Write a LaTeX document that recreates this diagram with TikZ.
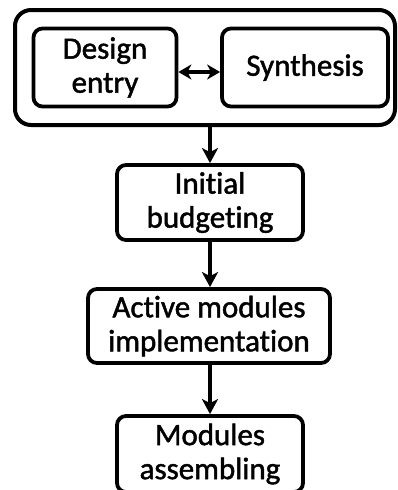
\documentclass[tikz,border=0pt]{standalone}
\usepackage{fontspec}
\setmainfont{Carlito}[Ligatures={NoCommon,NoRare,NoContextual},FakeBold=1.5]
\usetikzlibrary{arrows.meta}
\begin{document}
\begin{tikzpicture}[x=1pt,y=-1pt,
  box/.style={draw, line width=3.8pt, rounded corners=9pt, align=center, inner sep=0pt,
    font=\fontsize{31}{34}\selectfont},
  flow/.style={line width=3.8pt, -{Stealth[length=15pt,width=16pt,inset=4pt]}},
  both/.style={line width=3.5pt, {Stealth[length=13pt,width=15pt,inset=4pt]}-{Stealth[length=13pt,width=15pt,inset=4pt]}}]
\clip (0,0) rectangle (397,490);
\useasboundingbox (0,0) rectangle (397,490);
\node[draw, line width=4pt, rounded corners=16pt, minimum width=380pt, minimum height=115pt, inner sep=0pt] (outer) at (205,67.5) {};
\node[box, minimum width=143pt, minimum height=78pt] (design) at (105,67.5) {Design\\entry};
\node[box, minimum width=166pt, minimum height=78pt] (synth) at (305,67.5) {Synthesis};
\node[box, minimum width=186pt, minimum height=75pt] (init) at (210,202.5) {Initial\\budgeting};
\node[box, minimum width=242pt, minimum height=74pt] (active) at (209,326) {Active modules\\implementation};
\node[box, minimum width=186pt, minimum height=76pt] (mods) at (210,454) {Modules\\assembling};
\draw[both] ([yshift=-4.5pt]design.east) -- ([yshift=-4.5pt]synth.west);
\draw[flow] (init.north |- outer.south) -- (init.north);
\draw[flow] (init.south) -- (init.south |- active.north);
\draw[flow] (mods.north |- active.south) -- (mods.north);
\end{tikzpicture}
\end{document}
